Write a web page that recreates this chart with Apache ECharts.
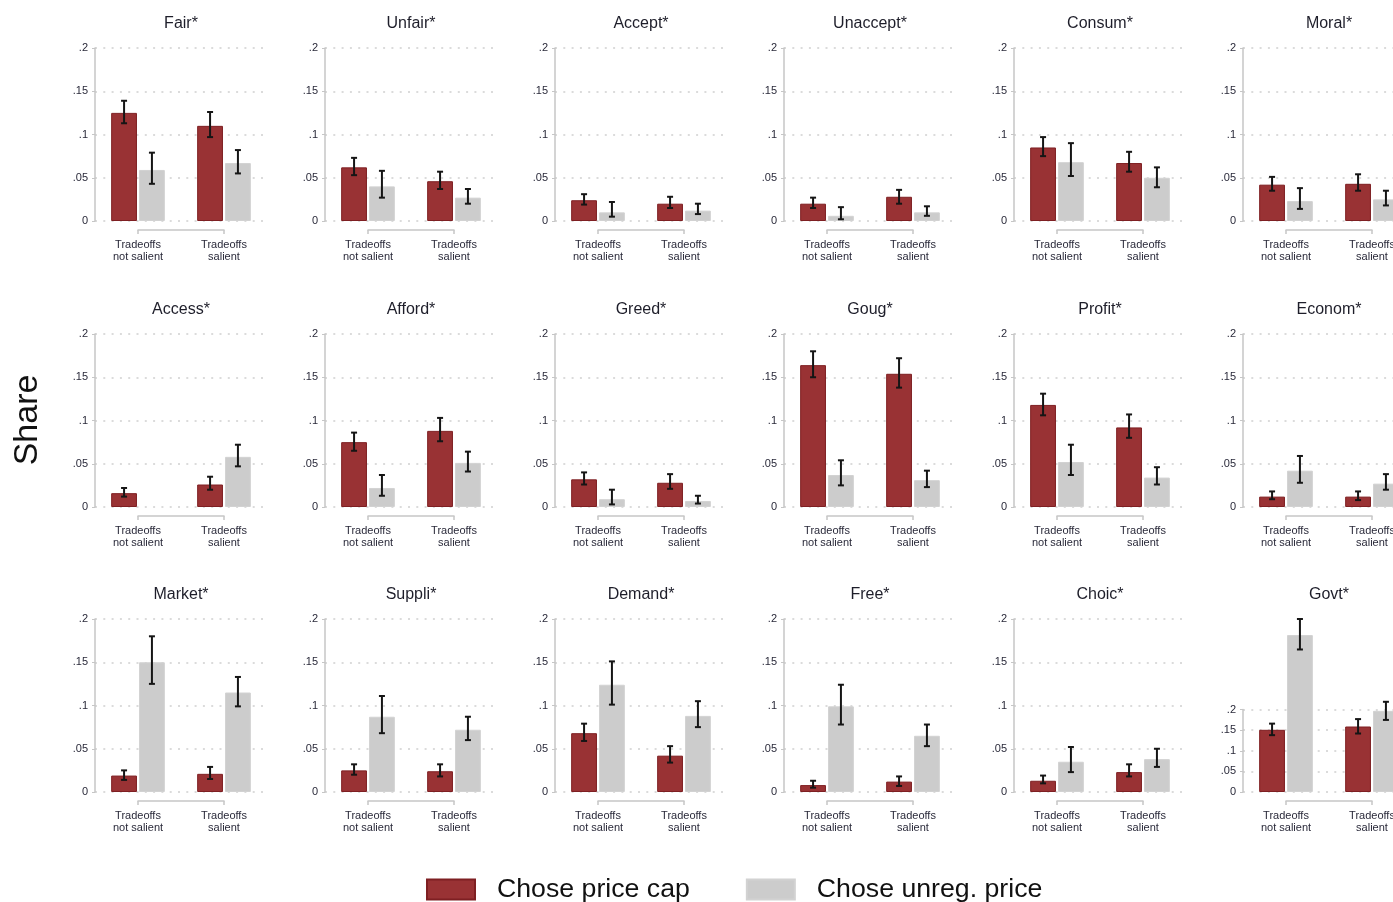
<!DOCTYPE html>
<html>
<head>
<meta charset="utf-8">
<title>Share choosing each option by word stem</title>
<script src="https://cdn.jsdelivr.net/npm/echarts@6/dist/echarts.min.js"></script>
<style>
  html, body { margin: 0; padding: 0; background: #fff; }
  #chart { width: 1393px; height: 902px; }
</style>
</head>
<body>
<div id="chart"></div>
<script>
// Word-stem panels, read left to right, top to bottom
const panelTitles = ['Fair*', 'Unfair*', 'Accept*', 'Unaccept*', 'Consum*', 'Moral*',
  'Access*', 'Afford*', 'Greed*', 'Goug*', 'Profit*', 'Econom*',
  'Market*', 'Suppli*', 'Demand*', 'Free*', 'Choic*', 'Govt*'];

// Groups on each panel's x axis
const groups = ['Tradeoffs\nnot salient', 'Tradeoffs\nsalient'];

// Shares for respondents who chose the price cap: [not salient, salient]
const capShare = [[0.125, 0.110], [0.062, 0.046], [0.024, 0.020], [0.020, 0.028], [0.085, 0.067], [0.042, 0.043],
  [0.016, 0.026], [0.075, 0.088], [0.032, 0.028], [0.164, 0.154], [0.118, 0.092], [0.012, 0.012],
  [0.019, 0.021], [0.025, 0.024], [0.068, 0.042], [0.008, 0.012], [0.013, 0.023], [0.151, 0.159]];
const capLow = [[0.113, 0.097], [0.053, 0.037], [0.019, 0.015], [0.015, 0.020], [0.075, 0.057], [0.035, 0.035],
  [0.012, 0.020], [0.065, 0.076], [0.026, 0.021], [0.150, 0.138], [0.106, 0.080], [0.009, 0.008],
  [0.014, 0.015], [0.020, 0.018], [0.059, 0.034], [0.005, 0.007], [0.010, 0.018], [0.138, 0.142]];
const capHigh = [[0.139, 0.126], [0.073, 0.057], [0.031, 0.028], [0.027, 0.036], [0.097, 0.080], [0.051, 0.054],
  [0.022, 0.035], [0.086, 0.103], [0.040, 0.038], [0.180, 0.172], [0.131, 0.107], [0.018, 0.018],
  [0.025, 0.029], [0.032, 0.032], [0.079, 0.053], [0.013, 0.018], [0.019, 0.032], [0.166, 0.177]];

// Shares for respondents who chose the unregulated price
const unregShare = [[0.059, 0.067], [0.040, 0.027], [0.010, 0.012], [0.006, 0.010], [0.068, 0.050], [0.023, 0.025],
  [null, 0.058], [0.022, 0.051], [0.009, 0.007], [0.037, 0.031], [0.052, 0.034], [0.042, 0.027],
  [0.150, 0.115], [0.087, 0.072], [0.124, 0.088], [0.099, 0.065], [0.035, 0.038], [0.381, 0.197]];
const unregLow = [[0.043, 0.055], [0.027, 0.020], [0.005, 0.008], [0.002, 0.006], [0.052, 0.039], [0.014, 0.018],
  [null, 0.047], [0.013, 0.041], [0.003, 0.004], [0.025, 0.023], [0.037, 0.026], [0.028, 0.020],
  [0.125, 0.099], [0.068, 0.060], [0.101, 0.075], [0.078, 0.053], [0.023, 0.029], [0.346, 0.175]];
const unregHigh = [[0.079, 0.082], [0.058, 0.037], [0.022, 0.020], [0.016, 0.017], [0.090, 0.062], [0.038, 0.035],
  [null, 0.072], [0.037, 0.064], [0.020, 0.013], [0.054, 0.042], [0.072, 0.046], [0.059, 0.038],
  [0.180, 0.133], [0.111, 0.087], [0.151, 0.105], [0.124, 0.078], [0.052, 0.050], [0.420, 0.219]];

// Y axis ticks shared by the panels
const yTickMax = 0.2;
const yTickStep = 0.05;
const govtScaleMax = 0.42;   // the Govt* panel needs room for its tall bar

const seriesNames = ['Chose price cap', 'Chose unreg. price'];

// ---- layout ----
const FONT = '"Liberation Sans", Arial, sans-serif';
const colLeft = [95, 325, 555, 784, 1014, 1243];
const rowTop = [48, 334, 619];
const plotW = 172, plotH = 173;
const RED = '#993234', RED_EDGE = '#7e1f22', GRAY = '#cccccc', GRAY_EDGE = '#d2d2d2';
const AXIS_GRAY = '#c6c6c6';

function fmtTick(v) {
  if (Math.abs(v) < 1e-9) return '0';
  return String(+v.toFixed(2)).replace(/^0\./, '.');
}

const grids = [], xAxes = [], yAxes = [], series = [], titles = [];

function makeGrid(left, top, width, height) {
  // the right-hand column runs past the canvas edge, so keep grids unclamped
  return { left, top, width, height, outerBoundsMode: 'none', containLabel: false };
}

function shownYAxis(gridIndex, max) {
  return {
    type: 'value', gridIndex, min: 0, max, interval: yTickStep,
    axisLine: { show: true, lineStyle: { color: AXIS_GRAY, width: 1.5 } },
    axisTick: { show: true, length: 3, lineStyle: { color: AXIS_GRAY } },
    axisLabel: { show: true, formatter: fmtTick, color: '#2a2a3a', fontSize: 11, fontFamily: FONT, margin: 7,
      padding: [2, 0, 0, 0] },
    splitLine: { show: true, lineStyle: { color: '#d0d0d0', width: 1.5, type: [2, 6.3] } }
  };
}

function errorBars(params, api) {
  const cat = api.value(0);
  const side = api.value(3);
  const lo = api.coord([cat, api.value(1)]);
  const hi = api.coord([cat, api.value(2)]);
  const band = api.size([1, 0])[0];
  const x = lo[0] + side * band * 0.162;
  const cap = 3;
  const style = { stroke: '#151515', lineWidth: 2 };
  return {
    type: 'group',
    children: [
      { type: 'line', shape: { x1: x, y1: lo[1], x2: x, y2: hi[1] }, style },
      { type: 'line', shape: { x1: x - cap, y1: hi[1], x2: x + cap, y2: hi[1] }, style },
      { type: 'line', shape: { x1: x - cap, y1: lo[1], x2: x + cap, y2: lo[1] }, style }
    ]
  };
}

panelTitles.forEach((name, i) => {
  const left = colLeft[i % 6];
  const top = rowTop[Math.floor(i / 6)];
  const isGovt = name === 'Govt*';
  const gMain = grids.length;

  // plotting area for the bars
  grids.push(makeGrid(left, top, plotW, plotH));
  xAxes.push({ type: 'category', gridIndex: gMain, data: groups, show: false });
  if (isGovt) {
    yAxes.push({ type: 'value', gridIndex: gMain, min: 0, max: govtScaleMax, show: false, splitLine: { show: false } });
  } else {
    yAxes.push(shownYAxis(gMain, yTickMax));
  }

  // bracket-style x axis running between the two group centres, just below the bars
  const gBr = grids.length;
  grids.push(makeGrid(left + plotW / 4, top + 9, plotW / 2, plotH));
  xAxes.push({
    type: 'category', gridIndex: gBr, data: groups, boundaryGap: false,
    axisLine: { show: true, lineStyle: { color: AXIS_GRAY, width: 1.5 } },
    axisTick: { show: true, length: 4, interval: 0, lineStyle: { color: AXIS_GRAY, width: 1.5 } },
    axisLabel: { show: true, interval: 0, color: '#2a2a3a', fontSize: 11, lineHeight: 12, fontFamily: FONT, margin: 9 },
    splitLine: { show: false }
  });
  yAxes.push({ type: 'value', gridIndex: gBr, min: 0, max: 1, show: false, splitLine: { show: false } });

  // Govt* keeps its tick labels on the lower part of a taller scale
  if (isGovt) {
    const gAx = grids.length;
    const axH = plotH * yTickMax / govtScaleMax;
    grids.push(makeGrid(left, top + plotH - axH, plotW, axH));
    xAxes.push({ type: 'category', gridIndex: gAx, data: groups, show: false });
    yAxes.push(shownYAxis(gAx, yTickMax));
  }

  series.push({
    type: 'bar', name: seriesNames[0], xAxisIndex: gMain, yAxisIndex: gMain,
    data: capShare[i], barWidth: '30%', barGap: '8%',
    itemStyle: { color: RED, borderColor: RED_EDGE, borderWidth: 1 }
  });
  series.push({
    type: 'bar', name: seriesNames[1], xAxisIndex: gMain, yAxisIndex: gMain,
    data: unregShare[i], barWidth: '30%', barGap: '8%',
    itemStyle: { color: GRAY, borderColor: GRAY_EDGE, borderWidth: 1 }
  });

  const ci = [];
  for (let k = 0; k < 2; k++) {
    if (capLow[i][k] != null) ci.push([k, capLow[i][k], capHigh[i][k], -1]);
    if (unregLow[i][k] != null) ci.push([k, unregLow[i][k], unregHigh[i][k], 1]);
  }
  series.push({
    type: 'custom', name: 'ci', xAxisIndex: gMain, yAxisIndex: gMain,
    data: ci, encode: { x: 0, y: [1, 2] }, renderItem: errorBars, z: 5, silent: true
  });

  titles.push({
    text: name, left: left + plotW / 2, top: top - 32, textAlign: 'center', padding: 0,
    textStyle: { fontSize: 16, fontWeight: 'normal', color: '#1e1e2a', fontFamily: FONT }
  });
});

const chart = echarts.init(document.getElementById('chart'), null, { renderer: 'canvas' });
chart.setOption({
  animation: false,
  backgroundColor: '#ffffff',
  title: titles,
  grid: grids,
  xAxis: xAxes,
  yAxis: yAxes,
  series,
  legend: {
    data: seriesNames,
    left: 426, top: 876, padding: 0,
    icon: 'rect', itemWidth: 48, itemHeight: 20, itemGap: 56,
    textStyle: { fontSize: 26.7, color: '#111', fontFamily: FONT, padding: [0, 0, 0, 17] }
  },
  graphic: [{
    type: 'text', x: 28, y: 420, rotation: Math.PI / 2,
    style: { text: 'Share', fontSize: 34, fill: '#111', fontFamily: FONT, textAlign: 'center', textVerticalAlign: 'middle' }
  }]
});
</script>
</body>
</html>
